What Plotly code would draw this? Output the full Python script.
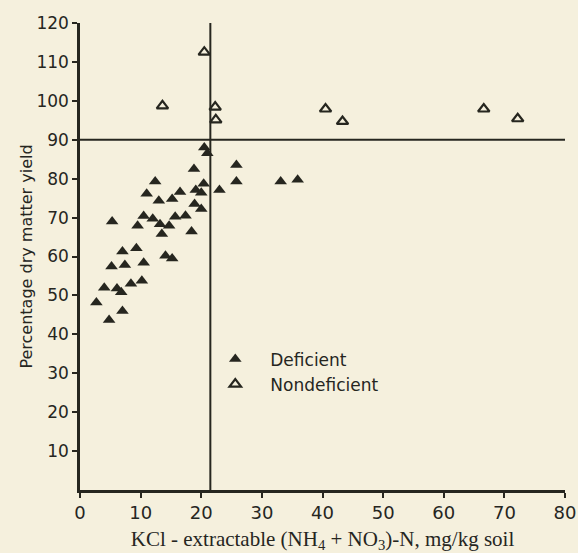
import plotly.graph_objects as go

# Deficient (filled triangles)
def_x = [20.5, 21.0, 18.8, 12.4, 20.4, 19.1, 20.0, 16.5, 11.0, 23.0, 15.2, 13.0, 18.9, 20.0,
         5.3, 10.5, 12.0, 9.5, 13.2, 14.7, 15.7, 17.4, 13.5, 18.4, 14.1, 15.2, 7.0, 9.3,
         5.2, 7.4, 10.5, 4.0, 6.1, 6.8, 8.4, 10.2, 2.7, 4.8, 7.0, 25.8, 25.8, 33.1, 35.9]
def_y = [88.0, 86.5, 82.5, 79.3, 78.7, 77.1, 76.4, 76.6, 76.1, 77.1, 74.8, 74.3, 73.5, 72.2,
         69.0, 70.4, 69.7, 67.9, 68.3, 67.9, 70.2, 70.5, 65.8, 66.4, 60.2, 59.5, 61.3, 62.1,
         57.4, 57.8, 58.4, 52.0, 51.8, 50.8, 53.0, 53.8, 48.2, 43.7, 46.0, 83.5, 79.3, 79.3, 79.7]

# Nondeficient (open triangles)
non_x = [20.5, 13.6, 22.3, 22.4, 40.5, 43.3, 66.6, 72.2]
non_y = [112.5, 98.7, 98.4, 95.1, 97.9, 94.7, 97.9, 95.4]

x_ticks = [0, 10, 20, 30, 40, 50, 60, 70, 80]
y_ticks = [10, 20, 30, 40, 50, 60, 70, 80, 90, 100, 110, 120]
critical_x = 21.5
critical_y = 90

bg = "#f5f0dd"
ink = "#26261f"

fig = go.Figure()
fig.add_trace(go.Scatter(
    x=def_x, y=def_y, mode="markers", name="Deficient",
    marker=dict(symbol="triangle-up", size=11, color=ink, line=dict(width=0)),
))
fig.add_trace(go.Scatter(
    x=non_x, y=non_y, mode="markers", name="Nondeficient",
    marker=dict(symbol="triangle-up-open", size=10, color=ink, line=dict(width=2.2)),
))

fig.add_shape(type="line", x0=0, x1=80, y0=critical_y, y1=critical_y, xref="x", yref="y",
              line=dict(color=ink, width=2))
fig.add_shape(type="line", x0=critical_x, x1=critical_x, y0=0, y1=120, xref="x", yref="y",
              line=dict(color=ink, width=2))

fig.update_layout(
    width=578, height=553,
    margin=dict(l=80, r=13, t=23, b=63),
    paper_bgcolor=bg, plot_bgcolor=bg,
    font=dict(family="DejaVu Sans", color=ink),
    showlegend=True,
    legend=dict(x=0.248, y=0.318, xanchor="left", yanchor="top", bgcolor="rgba(0,0,0,0)",
                font=dict(size=17, family="DejaVu Sans", color=ink), itemwidth=60),
    xaxis=dict(range=[0, 80], tickvals=x_ticks, ticktext=[str(v) for v in x_ticks],
               automargin=False,
               showgrid=False, zeroline=False, showline=True, linecolor=ink, linewidth=2.5,
               ticks="outside", ticklen=5, tickwidth=2, tickcolor=ink,
               tickfont=dict(size=18, family="DejaVu Sans"),
               title=dict(text="KCl - extractable (NH<sub>4</sub> + NO<sub>3</sub>)-N, mg/kg soil",
                          font=dict(size=21, family="Liberation Serif"), standoff=9)),
    yaxis=dict(range=[0, 120], tickvals=y_ticks, ticktext=[str(v) for v in y_ticks],
               automargin=False,
               showgrid=False, zeroline=False, showline=True, linecolor=ink, linewidth=2.5,
               ticks="outside", ticklen=5, tickwidth=2, tickcolor=ink,
               tickfont=dict(size=17, family="DejaVu Sans"),
               title=dict(text="Percentage dry matter yield",
                          font=dict(size=16, family="DejaVu Sans"), standoff=0)),
)

fig.write_html("out.html")
